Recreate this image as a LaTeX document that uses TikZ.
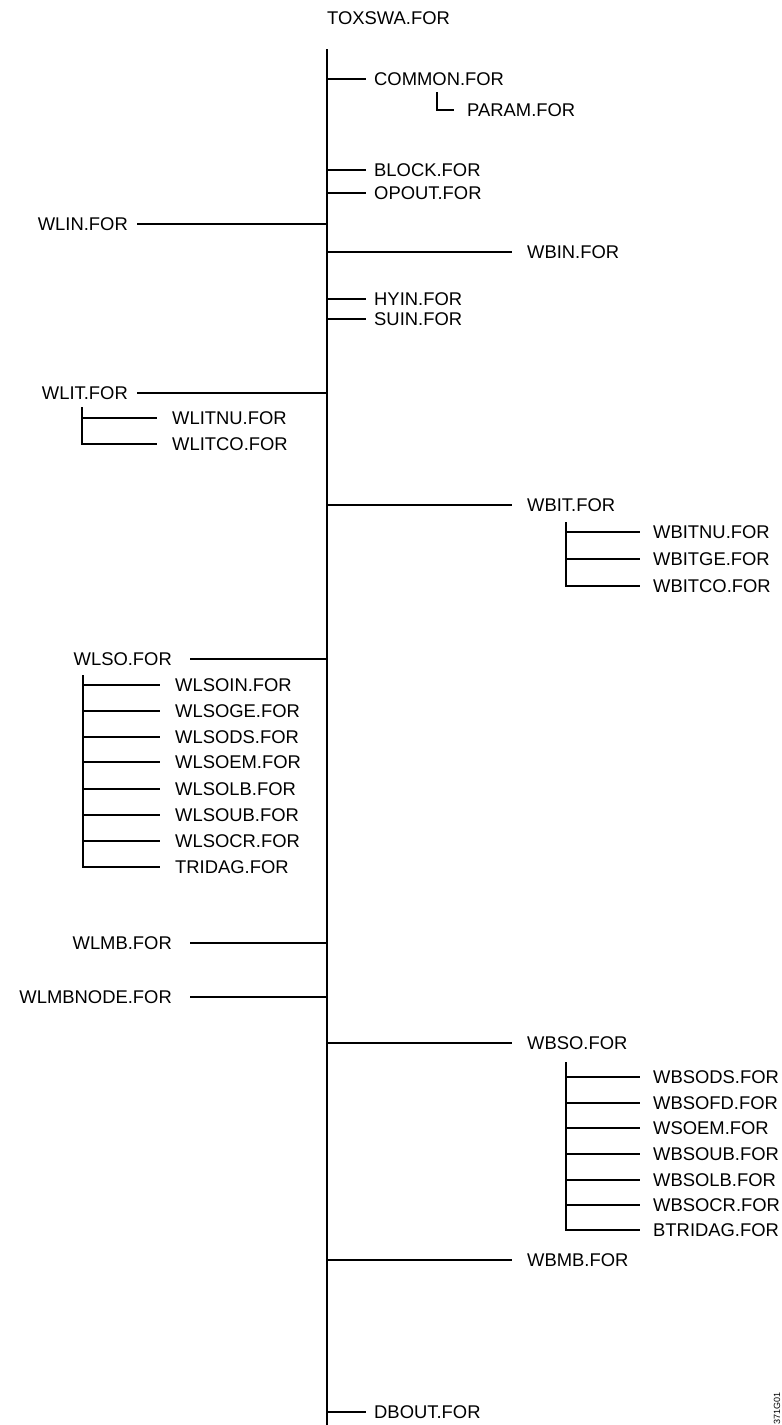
\documentclass[tikz,border=0pt]{standalone}
\usepackage{fontspec}
\newfontfamily\filefont{Liberation Sans}
\usepackage{tikz}

\tikzset{
    file/.style={font=\filefont\fontsize{18.4}{22}\selectfont, inner ysep=1pt},
    rfile/.style={file, anchor=west, inner xsep=#1},
    rfile/.default=15pt,
    lfile/.style={file, anchor=east, inner xsep=#1},
    lfile/.default=18pt,
    trunk/.style={line width=2.2pt},
    branch/.style={line width=1.3pt},
}

\begin{document}
\begin{tikzpicture}[x=1pt, y=-1pt]
    \useasboundingbox (0,0) rectangle (782,1425);

    % Main program and its trunk
    \node[file, anchor=west, inner xsep=0pt] (toxswa) at (327,18) {TOXSWA.FOR};
    \coordinate (top) at (327,49);
    \coordinate (bottom) at (327,1425);

    % Short branches right of the trunk
    \node[rfile=8pt] (common) at (366,79) {COMMON.FOR};
    \node[rfile=13pt] (param) at (454,110) {PARAM.FOR};
    \node[rfile=8pt] (block) at (366,170) {BLOCK.FOR};
    \node[rfile=8pt] (opout) at (366,193) {OPOUT.FOR};
    \node[rfile=8pt] (hyin) at (366,299) {HYIN.FOR};
    \node[rfile=8pt] (suin) at (366,319) {SUIN.FOR};
    \node[rfile=8pt] (dbout) at (366,1412) {DBOUT.FOR};

    % Long branches right of the trunk
    \node[rfile] (wbin) at (512,252) {WBIN.FOR};
    \node[rfile] (wbit) at (512,505) {WBIT.FOR};
    \node[rfile] (wbso) at (512,1043) {WBSO.FOR};
    \node[rfile] (wbmb) at (512,1260) {WBMB.FOR};

    % WBIT sub-routines
    \node[rfile=13pt] (wbitnu) at (640,532) {WBITNU.FOR};
    \node[rfile=13pt] (wbitge) at (640,559) {WBITGE.FOR};
    \node[rfile=13pt] (wbitco) at (640,586) {WBITCO.FOR};

    % WBSO sub-routines
    \node[rfile=13pt] (wbsods) at (640,1077) {WBSODS.FOR};
    \node[rfile=13pt] (wbsofd) at (640,1103) {WBSOFD.FOR};
    \node[rfile=13pt] (wsoem) at (640,1128) {WSOEM.FOR};
    \node[rfile=13pt] (wbsoub) at (640,1154) {WBSOUB.FOR};
    \node[rfile=13pt] (wbsolb) at (640,1180) {WBSOLB.FOR};
    \node[rfile=13pt] (wbsocr) at (640,1205) {WBSOCR.FOR};
    \node[rfile=13pt] (btridag) at (640,1230) {BTRIDAG.FOR};

    % Branches left of the trunk
    \node[lfile=9pt] (wlin) at (137,224) {WLIN.FOR};
    \node[lfile=9pt] (wlit) at (137,393) {WLIT.FOR};
    \node[lfile] (wlso) at (190,659) {WLSO.FOR};
    \node[lfile] (wlmb) at (190,943) {WLMB.FOR};
    \node[lfile] (wlmbnode) at (190,997) {WLMBNODE.FOR};

    % WLIT sub-routines
    \node[rfile] (wlitnu) at (157,418) {WLITNU.FOR};
    \node[rfile] (wlitco) at (157,444) {WLITCO.FOR};

    % WLSO sub-routines
    \node[rfile] (wlsoin) at (160,685) {WLSOIN.FOR};
    \node[rfile] (wlsoge) at (160,711) {WLSOGE.FOR};
    \node[rfile] (wlsods) at (160,737) {WLSODS.FOR};
    \node[rfile] (wlsoem) at (160,762) {WLSOEM.FOR};
    \node[rfile] (wlsolb) at (160,789) {WLSOLB.FOR};
    \node[rfile] (wlsoub) at (160,815) {WLSOUB.FOR};
    \node[rfile] (wlsocr) at (160,841) {WLSOCR.FOR};
    \node[rfile] (tridag) at (160,867) {TRIDAG.FOR};

    % Forks of the sub-trees
    \coordinate (paramfork) at (437,92);
    \coordinate (wbitfork) at (566,522);
    \coordinate (wbsofork) at (566,1062);
    \coordinate (wlitfork) at (82,407);
    \coordinate (wlsofork) at (83,675);

    % Drawing number
    \node[rotate=90, anchor=east, inner sep=0pt, font=\filefont\fontsize{9}{10}\selectfont] (drawno) at (777,1392) {371G01};

    % Trunk and its branches
    \draw[trunk] (top) -- (bottom);
    \draw[branch] (top |- common) -- (common);
    \draw[branch] (top |- block) -- (block);
    \draw[branch] (top |- opout) -- (opout);
    \draw[branch] (top |- hyin) -- (hyin);
    \draw[branch] (top |- suin) -- (suin);
    \draw[branch] (top |- dbout) -- (dbout);
    \draw[branch] (top |- wbin) -- (wbin);
    \draw[branch] (top |- wbit) -- (wbit);
    \draw[branch] (top |- wbso) -- (wbso);
    \draw[branch] (top |- wbmb) -- (wbmb);
    \draw[branch] (wlin) -- (top |- wlin);
    \draw[branch] (wlit) -- (top |- wlit);
    \draw[branch] (wlso) -- (top |- wlso);
    \draw[branch] (wlmb) -- (top |- wlmb);
    \draw[branch] (wlmbnode) -- (top |- wlmbnode);

    % Sub-trees
    \draw[branch] (paramfork) |- (param);

    \draw[branch] (wbitfork) |- (wbitco);
    \draw[branch] (wbitfork |- wbitnu) -- (wbitnu);
    \draw[branch] (wbitfork |- wbitge) -- (wbitge);

    \draw[branch] (wbsofork) |- (btridag);
    \draw[branch] (wbsofork |- wbsods) -- (wbsods);
    \draw[branch] (wbsofork |- wbsofd) -- (wbsofd);
    \draw[branch] (wbsofork |- wsoem) -- (wsoem);
    \draw[branch] (wbsofork |- wbsoub) -- (wbsoub);
    \draw[branch] (wbsofork |- wbsolb) -- (wbsolb);
    \draw[branch] (wbsofork |- wbsocr) -- (wbsocr);

    \draw[branch] (wlitfork) |- (wlitco);
    \draw[branch] (wlitfork |- wlitnu) -- (wlitnu);

    \draw[branch] (wlsofork) |- (tridag);
    \draw[branch] (wlsofork |- wlsoin) -- (wlsoin);
    \draw[branch] (wlsofork |- wlsoge) -- (wlsoge);
    \draw[branch] (wlsofork |- wlsods) -- (wlsods);
    \draw[branch] (wlsofork |- wlsoem) -- (wlsoem);
    \draw[branch] (wlsofork |- wlsolb) -- (wlsolb);
    \draw[branch] (wlsofork |- wlsoub) -- (wlsoub);
    \draw[branch] (wlsofork |- wlsocr) -- (wlsocr);
\end{tikzpicture}
\end{document}
